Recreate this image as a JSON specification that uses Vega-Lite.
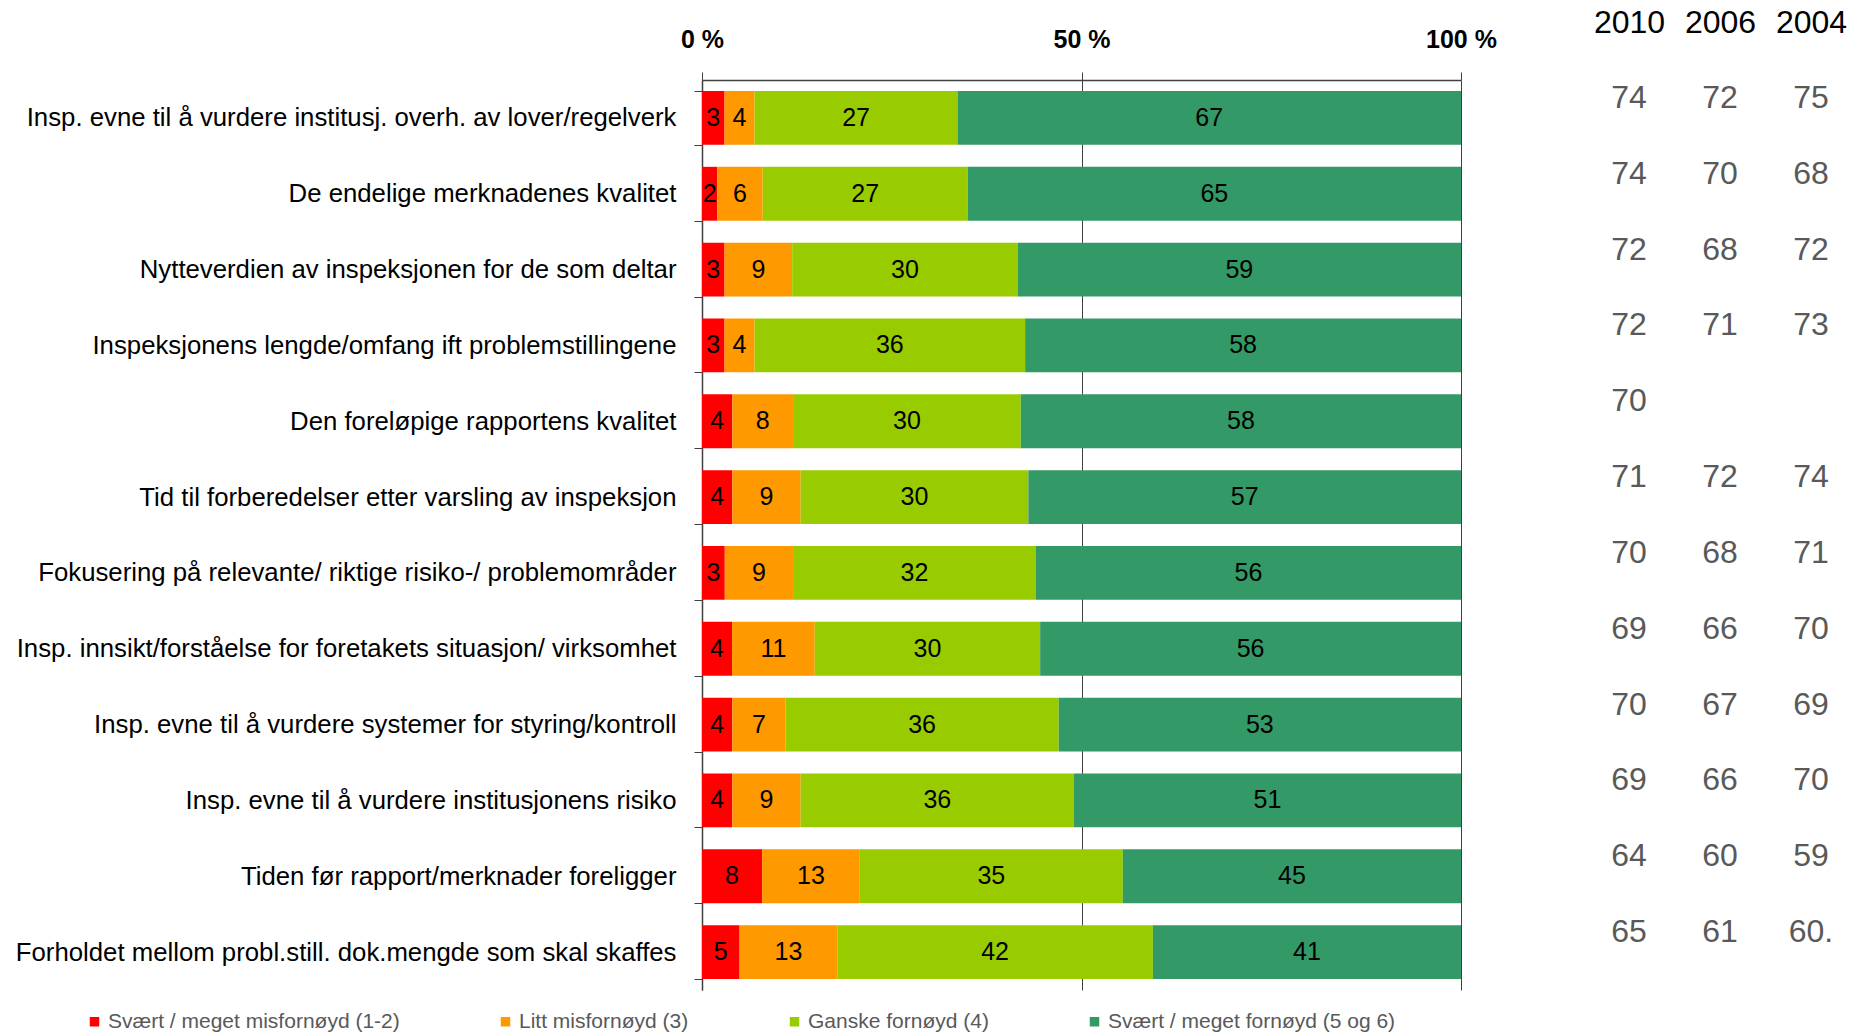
{
  "$schema": "https://vega.github.io/schema/vega-lite/v6.json",
  "autosize": {"type": "none"},
  "padding": {"left": 702, "top": 80, "right": 390, "bottom": 43},
  "width": 759,
  "height": 910,
  "background": "white",
  "datasets": {
    "bars": [
      {"item": "Insp. evne til å vurdere institusj. overh. av lover/regelverk", "cat": "Svært / meget misfornøyd (1-2)", "rank": 1, "value": 3},
      {"item": "Insp. evne til å vurdere institusj. overh. av lover/regelverk", "cat": "Litt misfornøyd (3)", "rank": 2, "value": 4},
      {"item": "Insp. evne til å vurdere institusj. overh. av lover/regelverk", "cat": "Ganske fornøyd (4)", "rank": 3, "value": 27},
      {"item": "Insp. evne til å vurdere institusj. overh. av lover/regelverk", "cat": "Svært / meget fornøyd (5 og 6)", "rank": 4, "value": 67},
      {"item": "De endelige merknadenes kvalitet", "cat": "Svært / meget misfornøyd (1-2)", "rank": 1, "value": 2},
      {"item": "De endelige merknadenes kvalitet", "cat": "Litt misfornøyd (3)", "rank": 2, "value": 6},
      {"item": "De endelige merknadenes kvalitet", "cat": "Ganske fornøyd (4)", "rank": 3, "value": 27},
      {"item": "De endelige merknadenes kvalitet", "cat": "Svært / meget fornøyd (5 og 6)", "rank": 4, "value": 65},
      {"item": "Nytteverdien av inspeksjonen  for de som deltar", "cat": "Svært / meget misfornøyd (1-2)", "rank": 1, "value": 3},
      {"item": "Nytteverdien av inspeksjonen  for de som deltar", "cat": "Litt misfornøyd (3)", "rank": 2, "value": 9},
      {"item": "Nytteverdien av inspeksjonen  for de som deltar", "cat": "Ganske fornøyd (4)", "rank": 3, "value": 30},
      {"item": "Nytteverdien av inspeksjonen  for de som deltar", "cat": "Svært / meget fornøyd (5 og 6)", "rank": 4, "value": 59},
      {"item": "Inspeksjonens lengde/omfang ift problemstillingene", "cat": "Svært / meget misfornøyd (1-2)", "rank": 1, "value": 3},
      {"item": "Inspeksjonens lengde/omfang ift problemstillingene", "cat": "Litt misfornøyd (3)", "rank": 2, "value": 4},
      {"item": "Inspeksjonens lengde/omfang ift problemstillingene", "cat": "Ganske fornøyd (4)", "rank": 3, "value": 36},
      {"item": "Inspeksjonens lengde/omfang ift problemstillingene", "cat": "Svært / meget fornøyd (5 og 6)", "rank": 4, "value": 58},
      {"item": "Den foreløpige rapportens kvalitet", "cat": "Svært / meget misfornøyd (1-2)", "rank": 1, "value": 4},
      {"item": "Den foreløpige rapportens kvalitet", "cat": "Litt misfornøyd (3)", "rank": 2, "value": 8},
      {"item": "Den foreløpige rapportens kvalitet", "cat": "Ganske fornøyd (4)", "rank": 3, "value": 30},
      {"item": "Den foreløpige rapportens kvalitet", "cat": "Svært / meget fornøyd (5 og 6)", "rank": 4, "value": 58},
      {"item": "Tid til forberedelser etter varsling av inspeksjon", "cat": "Svært / meget misfornøyd (1-2)", "rank": 1, "value": 4},
      {"item": "Tid til forberedelser etter varsling av inspeksjon", "cat": "Litt misfornøyd (3)", "rank": 2, "value": 9},
      {"item": "Tid til forberedelser etter varsling av inspeksjon", "cat": "Ganske fornøyd (4)", "rank": 3, "value": 30},
      {"item": "Tid til forberedelser etter varsling av inspeksjon", "cat": "Svært / meget fornøyd (5 og 6)", "rank": 4, "value": 57},
      {"item": "Fokusering på relevante/ riktige risiko-/ problemområder", "cat": "Svært / meget misfornøyd (1-2)", "rank": 1, "value": 3},
      {"item": "Fokusering på relevante/ riktige risiko-/ problemområder", "cat": "Litt misfornøyd (3)", "rank": 2, "value": 9},
      {"item": "Fokusering på relevante/ riktige risiko-/ problemområder", "cat": "Ganske fornøyd (4)", "rank": 3, "value": 32},
      {"item": "Fokusering på relevante/ riktige risiko-/ problemområder", "cat": "Svært / meget fornøyd (5 og 6)", "rank": 4, "value": 56},
      {"item": "Insp. innsikt/forståelse for foretakets situasjon/ virksomhet", "cat": "Svært / meget misfornøyd (1-2)", "rank": 1, "value": 4},
      {"item": "Insp. innsikt/forståelse for foretakets situasjon/ virksomhet", "cat": "Litt misfornøyd (3)", "rank": 2, "value": 11},
      {"item": "Insp. innsikt/forståelse for foretakets situasjon/ virksomhet", "cat": "Ganske fornøyd (4)", "rank": 3, "value": 30},
      {"item": "Insp. innsikt/forståelse for foretakets situasjon/ virksomhet", "cat": "Svært / meget fornøyd (5 og 6)", "rank": 4, "value": 56},
      {"item": "Insp. evne til å vurdere systemer for styring/kontroll", "cat": "Svært / meget misfornøyd (1-2)", "rank": 1, "value": 4},
      {"item": "Insp. evne til å vurdere systemer for styring/kontroll", "cat": "Litt misfornøyd (3)", "rank": 2, "value": 7},
      {"item": "Insp. evne til å vurdere systemer for styring/kontroll", "cat": "Ganske fornøyd (4)", "rank": 3, "value": 36},
      {"item": "Insp. evne til å vurdere systemer for styring/kontroll", "cat": "Svært / meget fornøyd (5 og 6)", "rank": 4, "value": 53},
      {"item": "Insp. evne til å vurdere institusjonens risiko", "cat": "Svært / meget misfornøyd (1-2)", "rank": 1, "value": 4},
      {"item": "Insp. evne til å vurdere institusjonens risiko", "cat": "Litt misfornøyd (3)", "rank": 2, "value": 9},
      {"item": "Insp. evne til å vurdere institusjonens risiko", "cat": "Ganske fornøyd (4)", "rank": 3, "value": 36},
      {"item": "Insp. evne til å vurdere institusjonens risiko", "cat": "Svært / meget fornøyd (5 og 6)", "rank": 4, "value": 51},
      {"item": "Tiden før rapport/merknader foreligger", "cat": "Svært / meget misfornøyd (1-2)", "rank": 1, "value": 8},
      {"item": "Tiden før rapport/merknader foreligger", "cat": "Litt misfornøyd (3)", "rank": 2, "value": 13},
      {"item": "Tiden før rapport/merknader foreligger", "cat": "Ganske fornøyd (4)", "rank": 3, "value": 35},
      {"item": "Tiden før rapport/merknader foreligger", "cat": "Svært / meget fornøyd (5 og 6)", "rank": 4, "value": 45},
      {"item": "Forholdet mellom probl.still. dok.mengde som skal skaffes", "cat": "Svært / meget misfornøyd (1-2)", "rank": 1, "value": 5},
      {"item": "Forholdet mellom probl.still. dok.mengde som skal skaffes", "cat": "Litt misfornøyd (3)", "rank": 2, "value": 13},
      {"item": "Forholdet mellom probl.still. dok.mengde som skal skaffes", "cat": "Ganske fornøyd (4)", "rank": 3, "value": 42},
      {"item": "Forholdet mellom probl.still. dok.mengde som skal skaffes", "cat": "Svært / meget fornøyd (5 og 6)", "rank": 4, "value": 41}
    ],
    "table": [
      {"item": "Insp. evne til å vurdere institusj. overh. av lover/regelverk", "year": "2010", "score": "74"},
      {"item": "Insp. evne til å vurdere institusj. overh. av lover/regelverk", "year": "2006", "score": "72"},
      {"item": "Insp. evne til å vurdere institusj. overh. av lover/regelverk", "year": "2004", "score": "75"},
      {"item": "De endelige merknadenes kvalitet", "year": "2010", "score": "74"},
      {"item": "De endelige merknadenes kvalitet", "year": "2006", "score": "70"},
      {"item": "De endelige merknadenes kvalitet", "year": "2004", "score": "68"},
      {"item": "Nytteverdien av inspeksjonen  for de som deltar", "year": "2010", "score": "72"},
      {"item": "Nytteverdien av inspeksjonen  for de som deltar", "year": "2006", "score": "68"},
      {"item": "Nytteverdien av inspeksjonen  for de som deltar", "year": "2004", "score": "72"},
      {"item": "Inspeksjonens lengde/omfang ift problemstillingene", "year": "2010", "score": "72"},
      {"item": "Inspeksjonens lengde/omfang ift problemstillingene", "year": "2006", "score": "71"},
      {"item": "Inspeksjonens lengde/omfang ift problemstillingene", "year": "2004", "score": "73"},
      {"item": "Den foreløpige rapportens kvalitet", "year": "2010", "score": "70"},
      {"item": "Tid til forberedelser etter varsling av inspeksjon", "year": "2010", "score": "71"},
      {"item": "Tid til forberedelser etter varsling av inspeksjon", "year": "2006", "score": "72"},
      {"item": "Tid til forberedelser etter varsling av inspeksjon", "year": "2004", "score": "74"},
      {"item": "Fokusering på relevante/ riktige risiko-/ problemområder", "year": "2010", "score": "70"},
      {"item": "Fokusering på relevante/ riktige risiko-/ problemområder", "year": "2006", "score": "68"},
      {"item": "Fokusering på relevante/ riktige risiko-/ problemområder", "year": "2004", "score": "71"},
      {"item": "Insp. innsikt/forståelse for foretakets situasjon/ virksomhet", "year": "2010", "score": "69"},
      {"item": "Insp. innsikt/forståelse for foretakets situasjon/ virksomhet", "year": "2006", "score": "66"},
      {"item": "Insp. innsikt/forståelse for foretakets situasjon/ virksomhet", "year": "2004", "score": "70"},
      {"item": "Insp. evne til å vurdere systemer for styring/kontroll", "year": "2010", "score": "70"},
      {"item": "Insp. evne til å vurdere systemer for styring/kontroll", "year": "2006", "score": "67"},
      {"item": "Insp. evne til å vurdere systemer for styring/kontroll", "year": "2004", "score": "69"},
      {"item": "Insp. evne til å vurdere institusjonens risiko", "year": "2010", "score": "69"},
      {"item": "Insp. evne til å vurdere institusjonens risiko", "year": "2006", "score": "66"},
      {"item": "Insp. evne til å vurdere institusjonens risiko", "year": "2004", "score": "70"},
      {"item": "Tiden før rapport/merknader foreligger", "year": "2010", "score": "64"},
      {"item": "Tiden før rapport/merknader foreligger", "year": "2006", "score": "60"},
      {"item": "Tiden før rapport/merknader foreligger", "year": "2004", "score": "59"},
      {"item": "Forholdet mellom probl.still. dok.mengde som skal skaffes", "year": "2010", "score": "65"},
      {"item": "Forholdet mellom probl.still. dok.mengde som skal skaffes", "year": "2006", "score": "61"},
      {"item": "Forholdet mellom probl.still. dok.mengde som skal skaffes", "year": "2004", "score": "60."}
    ]
  },
  "config": {
    "view": {"stroke": null},
    "font": "Liberation Sans"
  },
  "encoding": {
    "y": {
      "field": "item",
      "type": "nominal",
      "sort": null,
      "scale": {"paddingInner": 0.29, "paddingOuter": 0.145},
      "axis": {
        "title": null,
        "tickBand": "extent",
        "tickSize": 8,
        "tickColor": "#404040",
        "domainColor": "#404040",
        "domainWidth": 1.5,
        "labelFont": "Liberation Sans",
        "labelFontSize": 25.75,
        "labelColor": "#000000",
        "labelPadding": 18,
        "labelLimit": 800
      }
    }
  },
  "layer": [
    {
      "data": {"name": "bars"},
      "encoding": {
        "x": {
          "field": "value",
          "type": "quantitative",
          "stack": "normalize",
          "scale": {"domain": [0, 1]},
          "axis": {
            "orient": "top",
            "title": null,
            "values": [0, 0.5, 1],
            "labelExpr": "format(datum.value * 100, 'd') + ' %'",
            "labelFlush": false,
            "labelFont": "Liberation Sans",
            "labelFontWeight": "bold",
            "labelFontSize": 25,
            "labelColor": "#000000",
            "labelPadding": 20,
            "tickSize": 8,
            "tickColor": "#404040",
            "domainColor": "#404040",
            "domainWidth": 1.5,
            "grid": true,
            "gridColor": "#404040",
            "gridWidth": 1,
            "gridOpacity": 1
          }
        },
        "order": {"field": "rank", "type": "quantitative"}
      },
      "layer": [
        {
          "mark": {"type": "bar"},
          "encoding": {
            "color": {
              "field": "cat",
              "type": "nominal",
              "scale": {
                "domain": ["Svært / meget misfornøyd (1-2)", "Litt misfornøyd (3)", "Ganske fornøyd (4)", "Svært / meget fornøyd (5 og 6)"],
                "range": ["#FF0000", "#FF9900", "#99CC00", "#339966"]
              },
              "legend": {
                "title": null,
                "orient": "none",
                "direction": "horizontal",
                "legendX": -618,
                "legendY": 931,
                "symbolType": "square",
                "symbolSize": 90,
                "symbolStrokeWidth": 0,
                "labelFont": "Liberation Sans",
                "labelFontSize": 21,
                "labelColor": "#595959",
                "labelOffset": 3,
                "columnPadding": 95,
                "labelLimit": 400,
                "padding": 0
              }
            }
          }
        },
        {
          "mark": {"type": "text", "font": "Liberation Sans Narrow, Arial Narrow, Liberation Sans", "fontSize": 25, "color": "#000000", "baseline": "middle"},
          "encoding": {
            "x": {"field": "value", "type": "quantitative", "stack": "normalize", "bandPosition": 0.5},
            "detail": {"field": "cat"},
            "text": {"field": "value", "type": "quantitative"}
          }
        }
      ]
    },
    {
      "data": {"name": "table"},
      "mark": {"type": "text", "font": "Liberation Sans", "fontSize": 32, "color": "#595959", "baseline": "middle", "yOffset": -20},
      "encoding": {
        "x": {
          "field": "year",
          "type": "nominal",
          "scale": {"type": "point", "domain": ["2010", "2006", "2004"], "range": [927, 1109], "padding": 0},
          "axis": {
            "orient": "top",
            "title": null,
            "domain": false,
            "ticks": false,
            "tickSize": 0,
            "grid": false,
            "labelFont": "Liberation Sans",
            "labelFontSize": 32,
            "labelColor": "#000000",
            "labelPadding": 41,
            "labelAngle": 0
          }
        },
        "text": {"field": "score", "type": "nominal"}
      }
    }
  ],
  "resolve": {"scale": {"x": "independent"}, "axis": {"x": "independent"}}
}
